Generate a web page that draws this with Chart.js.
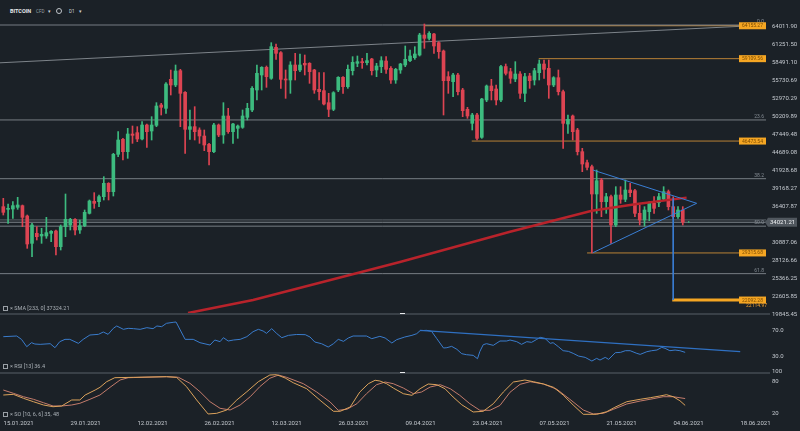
<!DOCTYPE html>
<html>
<head>
<meta charset="utf-8">
<script src="https://cdn.jsdelivr.net/npm/chart.js@4.4.1/dist/chart.umd.min.js"></script>
<style>
  body { margin: 0; background: #1b2127; width: 800px; height: 431px; overflow: hidden; position: relative; font-family: Roboto, sans-serif; }
  .pane { position: absolute; left: 0; width: 800px; }
  .txt { position: absolute; white-space: nowrap; z-index: 5; }
  .sep { position: absolute; left: 0; width: 770px; height: 2px; background: #394047; z-index: 4; }
  .handle { position: absolute; left: 400px; width: 5px; height: 1px; background: #e8eaec; z-index: 6; }
  .legend { position: absolute; left: 3px; font-size: 5.5px; color: #aab0b6; z-index: 5; white-space: nowrap; }
  .legend .box { display: inline-block; width: 3px; height: 3px; border: 1px solid #9aa0a6; margin-right: 2px; vertical-align: middle; }
</style>
</head>
<body>
<div class="txt" style="left:10px;top:8px;font-size:5.5px;font-weight:bold;color:#e6e9ec">BITCOIN</div>
<div class="txt" style="left:36px;top:8.5px;font-size:4.5px;color:#9aa0a6">CFD</div>
<div class="txt" style="left:48px;top:7.5px;font-size:5px;color:#d0d4d8">▾</div>
<div class="txt" style="left:56px;top:8px;width:4px;height:4px;border:1px solid #c0c5ca;border-radius:50%"></div>
<div class="txt" style="left:69px;top:8.5px;font-size:4.5px;color:#d0d4d8">D1</div>
<div class="txt" style="left:79px;top:7.5px;font-size:5px;color:#d0d4d8">▾</div>

<div class="pane" style="top:18px;height:302px"><canvas id="main" width="800" height="302"></canvas></div>
<div class="pane" style="top:313px;height:59px"><canvas id="rsi" width="800" height="59"></canvas></div>
<div class="pane" style="top:368px;height:63px"><canvas id="so" width="800" height="63"></canvas></div>

<div class="sep" style="top:312.5px"></div>
<div class="sep" style="top:371.5px"></div>
<div class="handle" style="top:313px"></div>
<div class="handle" style="top:372px"></div>

<div class="legend" style="top:305px"><span class="box"></span>× SMA [233, 0] 37324.21</div>
<div class="legend" style="top:363px"><span class="box"></span>× RSI [13] 36.4</div>
<div class="legend" style="top:411px"><span class="box"></span>× SO [10, 6, 6] 35, 48</div>

<script>
// ---- data ----
const dateLabels = ["15.01.2021", "29.01.2021", "12.02.2021", "26.02.2021", "12.03.2021", "26.03.2021",
  "09.04.2021", "23.04.2021", "07.05.2021", "21.05.2021", "04.06.2021", "18.06.2021"];

// daily candles, first one is 16.01.2021 (day 1 after 15.01.2021)
const candleOpen = [
  36412,36003,36054,36310,36566,34981,30789,32323,31913,31913,
  32323,32681,30278,33345,33601,34470,32834,33498,35390,37230,
  37179,37946,39991,38712,44438,46738,44847,47556,47761,46790,
  48936,48016,48885,52004,51493,55940,55071,57269,53946,48272,
  48681,48170,47250,45972,44847,48937,47403,50317,47914,48425,
  48579,50113,51237,54305,56605,57780,56093,60848,60030,55991,
  55838,58138,57372,58394,58394,57372,54407,54202,52362,51340,
  54305,56247,54816,57269,58393,58649,58496,59058,57371,57882,
  58751,57627,55837,57371,58138,58803,59262,59671,62739,62227,
  62892,61563,60285,56349,55582,56604,54304,51339,49192,50470,
  47045,52771,54917,54457,52771,57900,57115,55991,56758,53793,
  56451,55838,56962,58292,57627,55071,56196,54049,49090,50317,
  48170,44847,43160,42546,38354,40502,37179,37946,33601,38201,
  37537,38968,38866,35390,34367,35646,36924,37026,37588,38713,
  36413,34878,35902
];
const candleHigh = [
  37690,36821,37179,37844,36668,35134,33856,33345,33089,34776,
  32732,32834,33601,38355,34623,34572,34368,35901,37435,38560,
  38201,41013,40093,44592,47914,46891,48426,48783,48681,49448,
  49090,50215,52362,52259,55429,57369,58138,57474,54049,51237,
  51748,48500,48170,46125,49193,49090,52362,51493,49193,48937,
  51237,52260,54816,58138,57883,57985,61563,61359,60183,57372,
  58649,59928,59825,59672,58496,57474,56963,56963,53793,54049,
  56349,56349,58138,59416,59518,59160,59927,59160,58393,59416,
  59416,57882,57627,58393,61052,60438,60949,62994,64426,63250,
  62994,61716,60438,57115,56860,56860,54559,51646,50726,50726,
  53026,55070,55940,55070,58100,58291,57627,58649,57116,56860,
  56860,57627,58905,58905,58905,56349,57372,54305,50470,50470,
  48425,45358,43570,42802,42035,40758,38457,38201,39479,39479,
  40502,39991,39070,36668,36413,37179,37946,38457,39479,38968,
  37946,36413,36413
];
const candleLow = [
  35134,33856,34623,36003,33345,30022,28744,31300,30789,31556,
  31045,28999,29767,31811,32834,32067,32323,33345,35287,36157,
  36412,37435,37435,38048,44080,43569,43825,46125,46381,46636,
  45511,46636,48681,50470,50726,53537,54815,48681,44592,46738,
  46636,46125,45000,42802,44694,47148,46125,47659,46125,46892,
  48425,49704,50982,52771,54305,54713,55940,59008,54560,53026,
  53793,55838,57116,56605,55327,53793,52771,52004,50215,51135,
  54049,53793,54560,56604,57882,57627,58138,56604,56349,56962,
  56860,55326,55326,56860,57882,58649,59007,59518,60694,61972,
  59927,59160,50470,53793,53281,53537,50214,49959,48169,46636,
  46891,52515,52771,52004,52515,56604,55326,55582,53026,52515,
  54560,55071,55838,56093,53026,54815,53537,45358,47659,46636,
  44336,41779,42035,29316,35390,34878,35390,30789,33345,36924,
  37179,37946,34878,33601,33447,34265,35390,36413,37435,35902,
  34623,34623,33601
];
const candleClose = [
  35543,36157,36566,36668,34776,30686,33601,31811,32169,32425,
  32630,30278,33345,34470,34470,32834,33498,35543,37281,36923,
  37946,39991,38712,44438,46636,44847,47556,47352,46790,48936,
  47914,48936,51850,51646,55224,55071,57218,53793,48272,48681,
  47914,47250,45870,44847,48937,47403,50317,47914,49090,48784,
  50317,51493,54560,56860,57780,56349,60950,59928,55940,55838,
  58138,57269,58138,58138,57116,54305,54049,52157,51340,53895,
  56247,54816,57474,58547,58649,58496,58803,57269,57984,58803,
  57473,55837,57473,58291,59007,59518,59825,62739,62227,62994,
  61052,60183,55735,55735,56604,54048,51135,50316,50470,46891,
  52924,54917,54201,52771,57900,56860,56093,56758,53793,56349,
  55736,57269,58292,57474,55071,56196,54049,49192,49806,47914,
  44847,42955,42444,38354,40394,37179,37946,33601,38201,37537,
  38968,38559,35390,34367,35902,36924,36157,37946,38713,36413,
  34878,35902,34021.21
];

const priceTicks = [64011.90, 61251.50, 58491.10, 55730.69, 52970.29, 50209.89, 47449.48, 44689.08,
  41928.68, 39168.27, 36407.87, 33647.47, 30887.06, 28126.66, 25366.25, 22605.85, 19845.45];
const lastPrice = 34021.21;
const spreadPrice = 34380;

// fibonacci retracement levels
const fibNames = ["0.0", "23.6", "38.2", "50.0", "61.8"];
const fibPrices = [64272, 49711, 40703, 33422, 26141];

// orange horizontal levels and the day where each starts
const levelPrices = [64155.27, 59109.56, 46473.54, 29315.68, 22092.28];
const levelStartDays = [89.1, 112.9, 98.9, 123.0, 140.8];
const levelEndDay = 160.4;
const targetNote = "22114.97";

// long grey trend line
const trendDays = [0.3, 160.2];
const trendPrices = [58476, 64257];

// triangle and projection
const triUpperDays = [124.2, 145.9];
const triUpperPrices = [42035, 36928];
const triLowerDays = [124.2, 145.9];
const triLowerPrices = [29352, 36928];
const projDays = [141.0, 141.0];
const projPrices = [37690, 22092.28];

// SMA 233 (red)
const smaDays = [39.6, 53.2, 83.9, 106.9, 124.0, 133.4, 143.8];
const smaValues = [20104, 22099, 27926, 32573, 35794, 36821, 37800];

// RSI 13
const rsiDays = [1,3.8,4.8,5.9,6.9,7.6,8.7,10.8,11.8,12.8,
  13.9,14.9,16.7,17.7,19.1,20.9,21.9,22.9,24,24.7,
  26.1,27.1,28.2,29.6,31,32.3,33.1,34.1,35.1,36.5,
  37.1,39,40.7,42.1,44.2,45.2,46.3,47,48,49.1,
  50.5,51.9,53.2,54.3,55.3,56,57.1,58.1,59.2,60.6,
  62.3,64.1,65.1,66.1,67.5,68.9,70,71,72.1,73.1,
  74.1,76.9,78,79.7,80.8,82.2,83.2,84.9,86.4,87.4,
  88.1,89.5,90.5,91.6,93,93.7,94.7,95.8,96.8,97.8,
  99.2,100.1,100.6,101.3,102,103.4,104.8,106.2,106.9,108.3,
  109.3,110.4,111.4,112.5,113.2,114.2,115.3,115.9,117,118,
  119.1,120.1,121.2,122.6,124,125,125.7,126.8,127.5,128.9,
  130,131,132,133.4,134.1,135.5,136.5,137.6,138.6,139.3,
  140.3,141.4,142.4,143.5];
const rsiValues = [60,61,56,45,51,49,48.5,49.5,43.5,52.5,
  56,56,50,56,62.5,63.5,67,63.5,72.5,76,
  71,72.5,72,71,73.5,72,76,75,80,81.5,
  82,56,56,51,47.5,55,52.5,58.5,53.5,55,
  56,60,67.5,71,68.5,65,72,65,58.5,62,
  63.3,63,59.5,52,49.5,44.5,49.5,56,53,58,
  61,61,57,60.5,58,50.5,55.5,59.5,62,64.5,
  69,69.5,68,57,43,43.5,45.5,41,34.5,33,
  32,27,38,48,49.5,47,53.5,53.5,55,52.5,
  48.5,52.5,51.5,56,59,57.5,50,51,45,39,
  38,35,31,29,23.5,27.5,25,29,26,36,
  36.5,39,39,35,33.5,37.5,39,40,44,42.5,
  39,40,39,36.5];
const rsiTrendDays = [88.1, 155.0];
const rsiTrendValues = [69.5, 37.5];

// stochastic oscillator 10,6,6
const soFastDays = [1,3.1,5.2,7.3,9.4,11.4,13.2,15.3,17,18.1,
  20.2,21.2,22.6,24.3,28.2,35.1,37.2,39.3,41.4,43.8,
  45.6,47.7,49.8,51.9,54.3,56.7,58.1,59.9,61.6,64.4,
  67.2,70,71.4,73.5,75.5,77.3,78.7,79.7,81.1,82.5,
  84.6,86.4,88.1,89.8,91.6,93.3,95,96.8,99.2,101.3,
  103.4,105.5,107.6,109,110,111.8,113.9,116,118,120.1,
  122.2,125,127.1,128.8,131.3,134.1,136.2,138.2,139.6,141,
  142.4,143.5];
const soFastValues = [54.7,56,48.5,42,35.8,32.5,33.9,45.3,45.3,54.7,
  64.2,69.3,80,87.6,88.3,89.5,88.3,70.5,45.3,18.7,
  20,26.3,45.3,61,80,92.7,93.3,87,78,66.7,
  44.7,23.8,23.8,32,60.4,76.2,82.7,81.3,76.2,68,
  57.2,54.1,66.7,75.6,74.3,66.7,51,36.3,22.5,23.8,
  38.2,60.4,79.4,81.5,83.2,80,75.6,69.3,54.7,35.8,
  18.1,18.1,23,31.4,42,46.6,49.6,52.8,55.3,51.5,
  43.9,35];
const soSlowDays = [1,3.1,5.2,7.3,9.4,11.4,13.2,15.3,17,19.1,
  21.2,23.3,25.4,27.1,35.1,37.6,40,42.1,44.2,46.3,
  48.4,50.5,52.6,54.6,56.7,58.5,60.2,63.7,66.5,69.3,
  71,72.8,74.9,76.9,79,80.8,82.5,84.6,86.7,88.4,
  90.2,92.3,94.4,96.4,98.5,100.6,102.7,104.8,106.9,109,
  111.1,113.9,116.7,119.4,122.2,124.3,126.4,128.5,131.3,134.1,
  136.8,138.9,141,143.5];
const soSlowValues = [64.2,58,51.5,46.6,40.1,33.9,33.9,35.8,39,46.6,
  54.7,69.3,83.2,87.6,89.5,88.3,77,61,42,29.5,
  26.3,35.8,51.5,70.5,86.5,92.7,88.3,76.2,60.4,41.5,
  25.7,27.6,38.2,57.2,74.3,79.4,76.2,68,57.2,60.4,
  69.9,74.3,66.7,54.1,38.2,25.7,25.7,35,60,75,
  80,75.6,65.5,46.6,26.3,18.7,20,27.6,37.7,43.3,
  47.7,51.5,51.5,48];

// ---- styling ----
Chart.defaults.font.family = "Roboto";
Chart.defaults.font.size = 6;
Chart.defaults.color = "#c5cad0";
Chart.defaults.animation = false;

const up = "#3dbb7f";
const down = "#dd4452";
const xMin = 0.31;
const xMax = 160.81;

const zip = (xs, ys) => xs.map((x, k) => ({ x: x, y: ys[k] }));
const line = (data, color, width, order, extra) => Object.assign({
  type: "line", data, borderColor: color, borderWidth: width, pointRadius: 0, tension: 0, order
}, extra || {});
// keep the plot area exactly where the layout puts it
const noPad = (s) => { s.paddingTop = 0; s.paddingBottom = 0; s.paddingLeft = 0; s.paddingRight = 0; };

const xScale = (show) => ({
  type: "linear", min: xMin, max: xMax, display: show, offset: false,
  grid: { display: false, drawTicks: false }, border: { display: false },
  afterBuildTicks: (s) => { s.ticks = dateLabels.map((_, k) => ({ value: k * 14 })); },
  afterFit: (s) => { s.height = show ? 13 : 0; noPad(s); },
  ticks: {
    autoSkip: false, maxRotation: 0, align: "start", labelOffset: 5, padding: 2,
    color: "#c5cad0", callback: (v, i) => dateLabels[i]
  }
});
const yRight = (min, max, ticks, fmt) => ({
  position: "right", min, max,
  grid: { display: false, drawTicks: false }, border: { display: false },
  afterFit: (s) => { s.width = 32; noPad(s); },
  afterBuildTicks: (s) => { s.ticks = ticks.map((v) => ({ value: v })); },
  ticks: { padding: 4, color: "#c5cad0", callback: fmt }
});

const candleColors = candleOpen.map((o, i) => candleClose[i] >= o ? up : down);
const candleDays = candleOpen.map((_, i) => i + 1);
const wickData = candleDays.map((d, i) => ({ x: d, y: [candleLow[i], candleHigh[i]] }));
const bodyData = candleDays.map((d, i) => ({ x: d, y: [candleOpen[i], candleClose[i]] }));

const overlays = {
  id: "overlays",
  afterDatasetsDraw(chart) {
    const { ctx, chartArea, scales } = chart;
    const y = scales.y;
    const r = chartArea.right;
    ctx.save();
    ctx.font = "5px Roboto";
    ctx.textAlign = "right";
    ctx.textBaseline = "bottom";
    ctx.fillStyle = "#858c94";
    fibNames.forEach((n, k) => ctx.fillText(n, r - 4, y.getPixelForValue(fibPrices[k]) - 0.5));
    levelPrices.forEach((p, k) => {
      const py = y.getPixelForValue(p);
      ctx.fillStyle = "#f5a623";
      ctx.fillRect(r - 29, py - 3.5, 27, 7);
      ctx.fillStyle = "#7d4c00";
      ctx.textAlign = "center";
      ctx.textBaseline = "middle";
      ctx.fillText(p.toFixed(2), r - 15.5, py + 0.3);
    });
    const ty = y.getPixelForValue(levelPrices[4]);
    ctx.fillStyle = "#f0a030";
    ctx.textAlign = "right";
    ctx.textBaseline = "middle";
    ctx.fillText(targetNote, r - 1, ty + 6);
    ctx.restore();
  },
  afterDraw(chart) {
    const { ctx, chartArea, scales } = chart;
    const py = scales.y.getPixelForValue(lastPrice);
    const l = chartArea.right;
    ctx.save();
    ctx.fillStyle = "#50575e";
    ctx.beginPath();
    ctx.moveTo(l - 3, py);
    ctx.lineTo(l, py - 4.5);
    ctx.lineTo(l + 29, py - 4.5);
    ctx.lineTo(l + 29, py + 4.5);
    ctx.lineTo(l, py + 4.5);
    ctx.closePath();
    ctx.fill();
    ctx.fillStyle = "#eef0f2";
    ctx.font = "6px Roboto";
    ctx.textAlign = "left";
    ctx.textBaseline = "middle";
    ctx.fillText(lastPrice.toFixed(2), l + 2, py + 0.3);
    ctx.fillStyle = up;
    ctx.font = "4px Roboto";
    ctx.fillText("▸", scales.x.getPixelForValue(144), py);
    ctx.restore();
  }
};

const fibLines = fibPrices.map((p) => line([{ x: 0, y: p }, { x: levelEndDay, y: p }], "rgba(150,156,163,0.75)", 1, 6));
const levelLines = levelPrices.map((p, k) => line([{ x: levelStartDays[k], y: p }, { x: levelEndDay, y: p }],
  k === 4 ? "#f5a623" : "#b98236", k === 4 ? 3 : 1, 6));

new Chart(document.getElementById("main"), {
  type: "bar",
  data: {
    datasets: [
      ...fibLines,
      ...levelLines,
      line(zip(trendDays, trendPrices), "rgba(150,156,163,0.8)", 1, 6),
      line([{ x: 0, y: spreadPrice }, { x: levelEndDay, y: spreadPrice }], "rgba(120,126,133,0.7)", 1, 6),
      line([{ x: 0, y: lastPrice }, { x: levelEndDay, y: lastPrice }], "rgba(150,156,163,0.8)", 1, 6),
      { type: "bar", data: wickData, backgroundColor: candleColors, barThickness: 1, grouped: false, order: 4 },
      { type: "bar", data: bodyData, backgroundColor: candleColors, barThickness: 3, grouped: false, minBarLength: 1, order: 3 },
      line(zip(smaDays, smaValues), "#b8232b", 2.5, 2),
      line(zip(triUpperDays, triUpperPrices), "#3a7fd5", 1, 1),
      line(zip(triLowerDays, triLowerPrices), "#3a7fd5", 1, 1),
      line(zip(projDays, projPrices), "#3a7fd5", 1, 1)
    ]
  },
  options: {
    responsive: false,
    layout: { padding: { bottom: 5 } },
    plugins: { legend: { display: false }, tooltip: { enabled: false } },
    scales: {
      x: xScale(false),
      y: yRight(19798.6, 65346, priceTicks, (v) => v.toFixed(2))
    }
  },
  plugins: [overlays]
});

new Chart(document.getElementById("rsi"), {
  type: "line",
  data: {
    datasets: [
      line(zip(rsiDays, rsiValues), "#3a7ccc", 1, 2),
      line(zip(rsiTrendDays, rsiTrendValues), "#2f70c2", 1.2, 1)
    ]
  },
  options: {
    responsive: false,
    plugins: { legend: { display: false }, tooltip: { enabled: false } },
    scales: {
      x: xScale(false),
      y: yRight(7.08, 95.47, [30, 70], (v) => v.toFixed(1))
    }
  }
});

new Chart(document.getElementById("so"), {
  type: "line",
  data: {
    datasets: [
      line(zip(soSlowDays, soSlowValues), "#c47c6c", 1, 2),
      line(zip(soFastDays, soFastValues), "#dca35c", 1, 1)
    ]
  },
  options: {
    responsive: false,
    layout: { padding: { top: 4 } },
    plugins: { legend: { display: false }, tooltip: { enabled: false } },
    scales: {
      x: xScale(true),
      y: yRight(11.1, 98.4, [20, 80, 100], (v) => String(v))
    }
  }
});
</script>
</body>
</html>
